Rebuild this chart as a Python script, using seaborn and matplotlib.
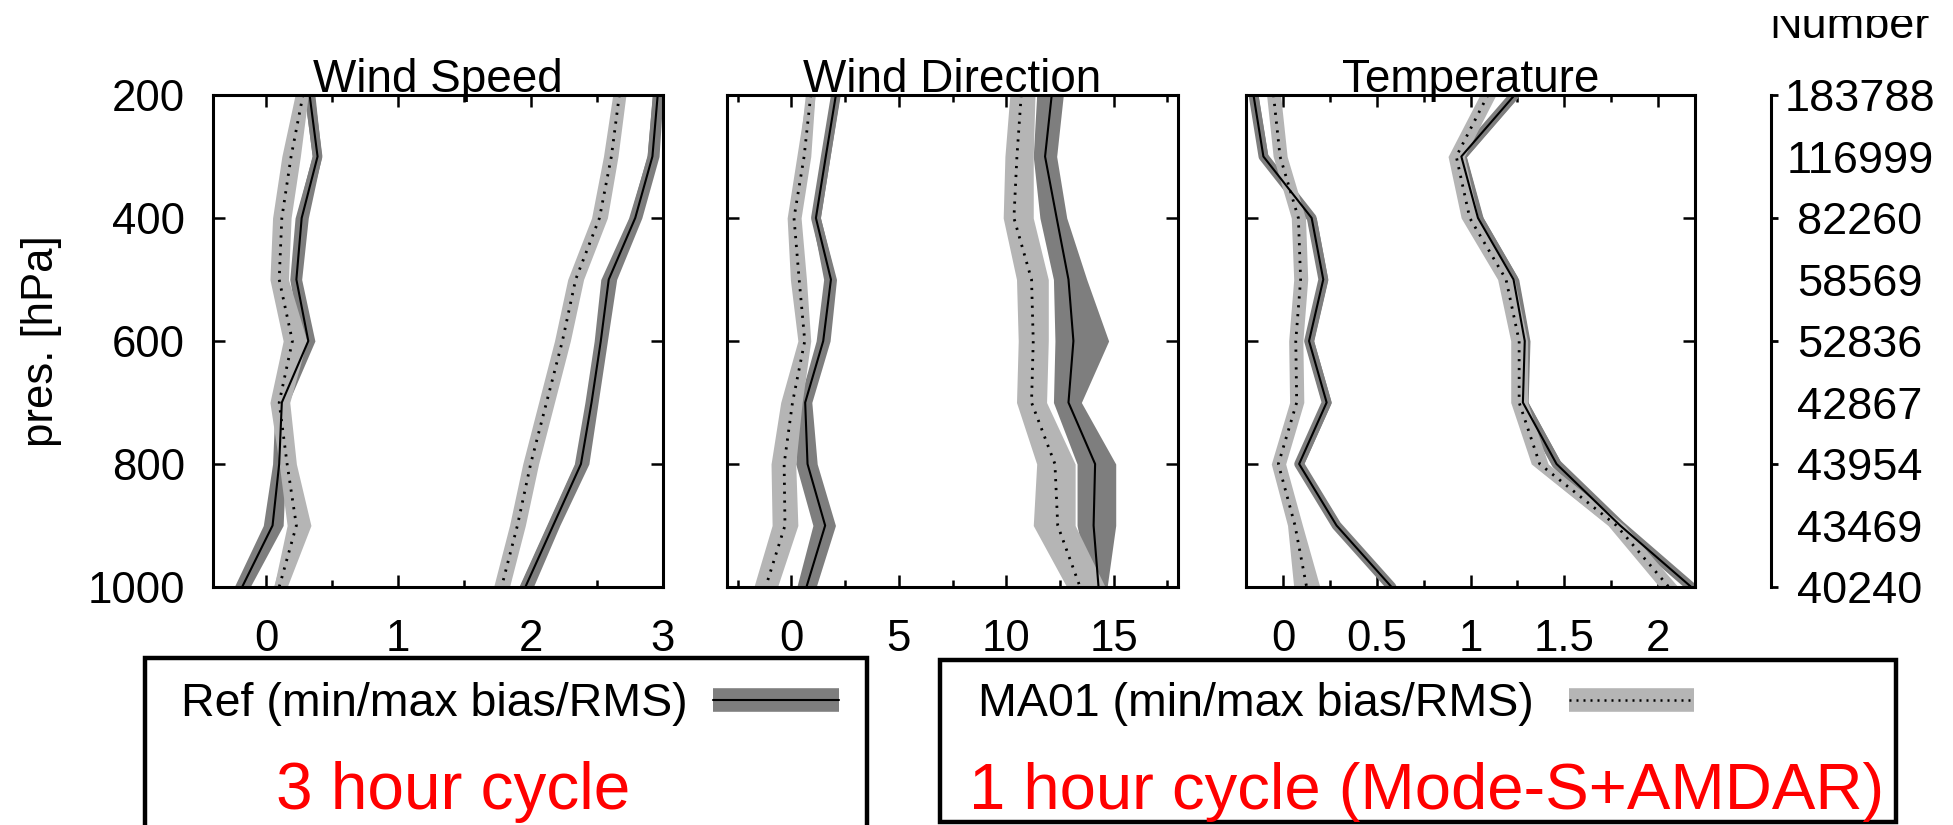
import numpy as np
import matplotlib
matplotlib.use("Agg")
import matplotlib.pyplot as plt
import seaborn as sns
from matplotlib.lines import Line2D
from matplotlib.patches import Rectangle

# ---------------- data ----------------
levels = [200, 300, 400, 500, 600, 700, 800, 900, 1000]
obs_number = ["183788", "116999", "82260", "58569", "52836", "42867", "43954", "43469", "40240"]

# Wind speed
ws_ref_bias    = [0.33, 0.39, 0.27, 0.23, 0.32, 0.12, 0.10, 0.05, -0.18]
ws_ref_bias_lo = [0.29, 0.35, 0.22, 0.18, 0.26, 0.07, 0.05, -0.02, -0.24]
ws_ref_bias_hi = [0.37, 0.42, 0.32, 0.27, 0.37, 0.17, 0.15, 0.13, -0.12]
ws_ma_bias     = [0.28, 0.19, 0.12, 0.10, 0.20, 0.10, 0.16, 0.23, 0.10]
ws_ma_bias_lo  = [0.22, 0.12, 0.05, 0.03, 0.13, 0.03, 0.10, 0.16, 0.06]
ws_ma_bias_hi  = [0.32, 0.26, 0.19, 0.17, 0.31, 0.18, 0.23, 0.34, 0.16]
ws_ref_rms     = [2.96, 2.92, 2.79, 2.59, 2.53, 2.46, 2.38, 2.17, 1.96]
ws_ref_rms_lo  = [2.92, 2.88, 2.74, 2.53, 2.48, 2.41, 2.33, 2.12, 1.91]
ws_ref_rms_hi  = [3.00, 2.97, 2.84, 2.65, 2.58, 2.51, 2.44, 2.22, 2.02]
ws_ma_rms      = [2.67, 2.61, 2.52, 2.34, 2.24, 2.12, 2.00, 1.90, 1.78]
ws_ma_rms_lo   = [2.62, 2.55, 2.46, 2.28, 2.18, 2.06, 1.94, 1.84, 1.72]
ws_ma_rms_hi   = [2.72, 2.66, 2.58, 2.40, 2.30, 2.18, 2.06, 1.96, 1.84]

# Wind direction
wd_ref_bias    = [2.07, 1.60, 1.14, 1.84, 1.48, 0.64, 0.75, 1.57, 0.70]
wd_ref_bias_lo = [1.90, 1.40, 0.95, 1.50, 1.15, 0.35, 0.20, 1.00, 0.25]
wd_ref_bias_hi = [2.25, 1.80, 1.35, 2.10, 1.80, 0.95, 1.20, 2.05, 1.15]
wd_ma_bias     = [0.90, 0.59, 0.12, 0.36, 0.62, 0.05, -0.34, -0.30, -1.20]
wd_ma_bias_lo  = [0.70, 0.25, -0.20, -0.05, 0.30, -0.50, -0.95, -0.90, -1.75]
wd_ma_bias_hi  = [1.10, 0.90, 0.45, 0.70, 0.90, 0.50, 0.20, 0.30, -0.65]
wd_ref_rms     = [12.12, 11.81, 12.35, 12.90, 13.13, 12.90, 14.14, 14.07, 14.30]
wd_ref_rms_lo  = [11.42, 11.26, 11.57, 12.20, 12.27, 12.20, 13.30, 13.30, 13.90]
wd_ref_rms_hi  = [12.66, 12.35, 12.82, 13.75, 14.77, 13.50, 15.10, 15.10, 14.70]
wd_ma_rms      = [10.70, 10.50, 10.36, 11.18, 11.26, 11.18, 12.27, 12.40, 13.44]
wd_ma_rms_lo   = [10.17, 9.94, 9.86, 10.48, 10.56, 10.48, 11.42, 11.26, 12.82]
wd_ma_rms_hi   = [11.34, 11.26, 11.26, 11.96, 11.96, 11.88, 13.21, 13.21, 14.61]

# Temperature
t_ref_bias     = [-0.160, -0.107, 0.151, 0.213, 0.137, 0.231, 0.084, 0.284, 0.578]
t_ref_bias_lo  = [-0.185, -0.130, 0.125, 0.190, 0.112, 0.205, 0.060, 0.258, 0.550]
t_ref_bias_hi  = [-0.135, -0.082, 0.176, 0.238, 0.162, 0.256, 0.108, 0.310, 0.605]
t_ma_bias      = [-0.053, -0.018, 0.080, 0.092, 0.066, 0.071, -0.027, 0.062, 0.124]
t_ma_bias_lo   = [-0.090, -0.055, 0.042, 0.055, 0.028, 0.033, -0.065, 0.022, 0.055]
t_ma_bias_hi   = [-0.015, 0.020, 0.118, 0.130, 0.104, 0.109, 0.012, 0.102, 0.195]
t_ref_rms      = [1.236, 0.951, 1.040, 1.230, 1.290, 1.280, 1.460, 1.800, 2.180]
t_ref_rms_lo   = [1.210, 0.925, 1.012, 1.202, 1.262, 1.252, 1.432, 1.772, 2.150]
t_ref_rms_hi   = [1.262, 0.978, 1.068, 1.258, 1.318, 1.308, 1.488, 1.828, 2.210]
t_ma_rms       = [1.093, 0.924, 0.996, 1.190, 1.260, 1.260, 1.370, 1.780, 2.060]
t_ma_rms_lo    = [1.050, 0.880, 0.950, 1.145, 1.215, 1.215, 1.325, 1.735, 2.010]
t_ma_rms_hi    = [1.136, 0.968, 1.042, 1.235, 1.305, 1.305, 1.415, 1.825, 2.110]

titles = ["Wind Speed", "Wind Direction", "Temperature"]
ws_major = [0, 1, 2, 3]
ws_minor = [0.5, 1.5, 2.5]
wd_major = [0, 5, 10, 15]
wd_minor = [-2.5, 2.5, 7.5, 12.5, 17.5]
t_major = [0, 0.5, 1, 1.5, 2]
t_major_labels = ["0", "0.5", "1", "1.5", "2"]
t_minor = [0.25, 0.75, 1.25, 1.75]
y_major = [200, 400, 600, 800, 1000]

# ---------------- style ----------------
sns.set_theme(style="ticks")
plt.rcParams["font.family"] = ["Liberation Sans", "DejaVu Sans"]
plt.rcParams["axes.linewidth"] = 2.2
plt.rcParams["text.color"] = "black"
plt.rcParams["axes.labelcolor"] = "black"

DARK = "#7e7e7e"
LIGHT = "#b5b5b5"
W, H = 1953, 825
TICK_FS = 31.5

fig = plt.figure(figsize=(W / 100, H / 100), dpi=100)
fig.patch.set_facecolor("white")


def rect(x0, x1, y0, y1):
    return [x0 / W, 1 - y1 / H, (x1 - x0) / W, (y1 - y0) / H]


ax1 = fig.add_axes(rect(213, 663, 95, 587))
ax2 = fig.add_axes(rect(727, 1178, 95, 587))
ax3 = fig.add_axes(rect(1246, 1695, 95, 587))

panels = [
    (ax1, [(ws_ref_bias, ws_ref_bias_lo, ws_ref_bias_hi), (ws_ref_rms, ws_ref_rms_lo, ws_ref_rms_hi)],
          [(ws_ma_bias, ws_ma_bias_lo, ws_ma_bias_hi), (ws_ma_rms, ws_ma_rms_lo, ws_ma_rms_hi)]),
    (ax2, [(wd_ref_bias, wd_ref_bias_lo, wd_ref_bias_hi), (wd_ref_rms, wd_ref_rms_lo, wd_ref_rms_hi)],
          [(wd_ma_bias, wd_ma_bias_lo, wd_ma_bias_hi), (wd_ma_rms, wd_ma_rms_lo, wd_ma_rms_hi)]),
    (ax3, [(t_ref_bias, t_ref_bias_lo, t_ref_bias_hi), (t_ref_rms, t_ref_rms_lo, t_ref_rms_hi)],
          [(t_ma_bias, t_ma_bias_lo, t_ma_bias_hi), (t_ma_rms, t_ma_rms_lo, t_ma_rms_hi)]),
]

for ax, ref_profiles, ma_profiles in panels:
    # bands
    for profiles, col, z in ((ref_profiles, DARK, 1), (ma_profiles, LIGHT, 2)):
        for mean, lo, hi in profiles:
            ax.fill_betweenx(levels, lo, hi, color=col, lw=0, zorder=z)
            sns.lineplot(x=mean, y=levels, orient="y", sort=False, estimator=None,
                         color=col, lw=7, ax=ax, zorder=z)
    # centre lines
    for mean, lo, hi in ref_profiles:
        sns.lineplot(x=mean, y=levels, orient="y", sort=False, estimator=None,
                     color="black", lw=1.5, ax=ax, zorder=4)
    for mean, lo, hi in ma_profiles:
        sns.lineplot(x=mean, y=levels, orient="y", sort=False, estimator=None,
                     color="black", lw=2.0, linestyle=(0, (0.8, 2.4)), ax=ax, zorder=5)

for ax, title in zip([ax1, ax2, ax3], titles):
    ax.set_ylim(1000, 200)
    ax.set_yticks(y_major)
    ax.set_title(title, fontsize=33, y=1.0, pad=2.5, color="black")
    ax.set_xlabel("")
    ax.set_ylabel("")
    ax.tick_params(which="both", direction="in", top=True, bottom=True, left=True, right=True,
                   width=1.8, color="black", labelsize=TICK_FS, labelcolor="black")
    ax.tick_params(which="major", length=8.5)
    ax.tick_params(which="minor", length=5)
    ax.tick_params(axis="x", which="major", pad=23)
    ax.tick_params(axis="y", which="major", pad=20)
    for sp in ax.spines.values():
        sp.set_visible(True)
        sp.set_color("black")
        sp.set_linewidth(2.2)
    ax.set_facecolor("white")

ax1.set_xlim(-0.4, 3.0)
ax1.set_xticks(ws_major)
ax1.set_xticks(ws_minor, minor=True)
ax1.set_xticklabels([str(v) for v in ws_major])

ax2.set_xlim(-3, 18)
ax2.set_xticks(wd_major)
ax2.set_xticks(wd_minor, minor=True)
ax2.set_xticklabels([str(v) for v in wd_major])
ax2.tick_params(axis="y", labelleft=False)

ax3.set_xlim(-0.2, 2.2)
ax3.set_xticks(t_major)
ax3.set_xticks(t_minor, minor=True)
ax3.set_xticklabels(t_major_labels)
ax3.tick_params(axis="y", labelleft=False)

ax1.set_ylabel("pres. [hPa]", fontsize=31.5, color="black")
ax1.yaxis.label.set_va("center")
ax1.yaxis.set_label_coords((42 - 213) / 450, 0.5)

# ---------------- number axis ----------------
axn = fig.add_axes(rect(1769, 1771, 95, 587))
axn.set_ylim(1000, 200)
axn.set_xlim(0, 1)
for k in ("left", "top", "bottom"):
    axn.spines[k].set_visible(False)
axn.spines["right"].set_linewidth(2.2)
axn.spines["right"].set_color("black")
axn.patch.set_alpha(0)
axn.set_xticks([])
axn.yaxis.remove_overlapping_locs = False
axn.yaxis.tick_right()
axn.set_yticks(levels)
axn.set_yticklabels(obs_number)
axn.set_yticks(y_major, minor=True)
axn.tick_params(axis="y", which="major", length=0, pad=64, labelsize=32.5, labelcolor="black")
axn.tick_params(axis="y", which="minor", direction="out", length=5, width=2.0, color="black",
                right=True, left=False)
for lab in axn.get_yticklabels():
    lab.set_horizontalalignment("center")

fig.text(1849 / W, 1 - 38 / H, "Number", fontsize=32.5, ha="center", va="baseline", color="black")
fig.patches.append(Rectangle((1740 / W, 1 - 16 / H), 213 / W, 16 / H, transform=fig.transFigure,
                             facecolor="white", edgecolor="none", zorder=10))

# ---------------- legend boxes ----------------
fig.patches.append(Rectangle((145 / W, -0.05), (867 - 145) / W, 1 - 658 / H + 0.05,
                             transform=fig.transFigure, fill=False, lw=3.2, edgecolor="black"))
fig.patches.append(Rectangle((940 / W, 1 - 822 / H), (1896 - 940) / W, (822 - 660) / H,
                             transform=fig.transFigure, fill=False, lw=3.2, edgecolor="black"))

ref_handle = (Line2D([], [], color=DARK, lw=17, solid_capstyle="butt"),
              Line2D([], [], color="black", lw=1.5))
ma_handle = (Line2D([], [], color=LIGHT, lw=17, solid_capstyle="butt"),
             Line2D([], [], color="black", lw=1.8, linestyle=(0, (0.8, 2.0))))

leg1 = fig.legend([ref_handle], ["Ref (min/max bias/RMS)"], loc="center left",
                  bbox_to_anchor=(181 / W, 1 - 704 / H), frameon=False, markerfirst=False,
                  handlelength=2.7, handletextpad=0.55, borderpad=0, borderaxespad=0, fontsize=33.5)
leg2 = fig.legend([ma_handle], ["MA01 (min/max bias/RMS)"], loc="center left",
                  bbox_to_anchor=(978 / W, 1 - 704 / H), frameon=False, markerfirst=False,
                  handlelength=2.7, handletextpad=0.75, borderpad=0, borderaxespad=0, fontsize=33.5)
for leg in (leg1, leg2):
    for t in leg.get_texts():
        t.set_color("black")

fig.text(276 / W, 1 - 809 / H, "3 hour cycle", color="red", fontsize=47.3, ha="left", va="baseline")
fig.text(969 / W, 1 - 809 / H, "1 hour cycle (Mode-S+AMDAR)", color="red", fontsize=47,
         ha="left", va="baseline")

fig.savefig("out.png", dpi=100, facecolor="white")
